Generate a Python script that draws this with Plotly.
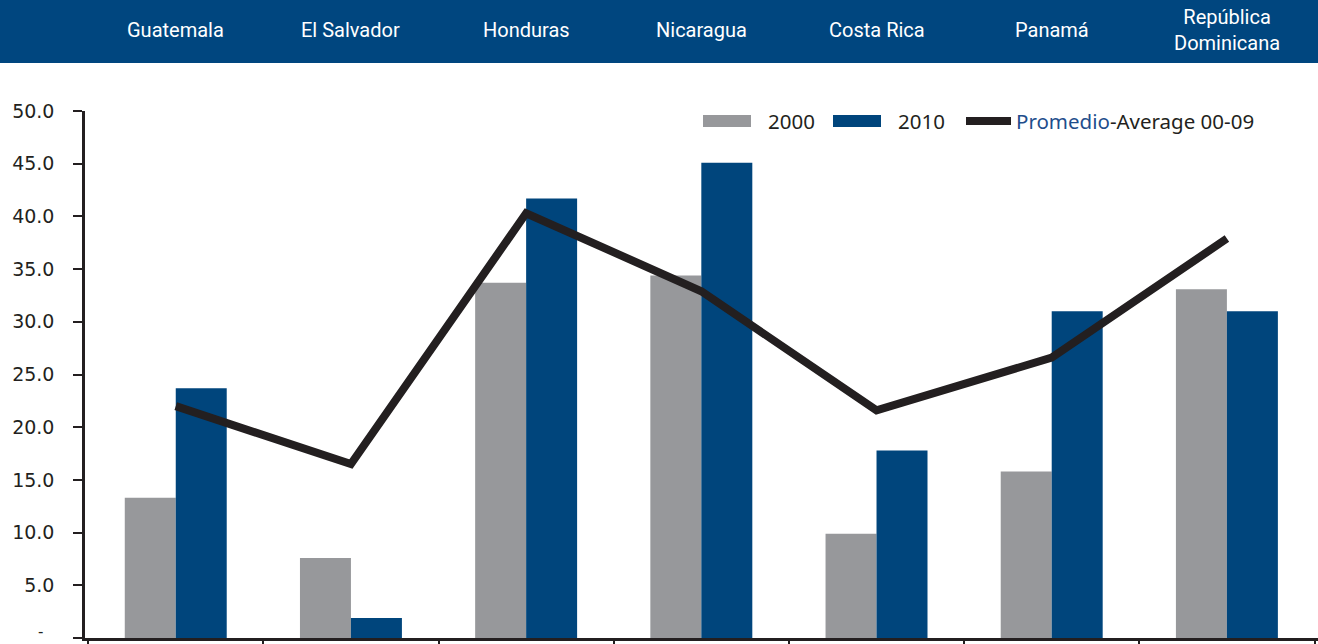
import plotly.graph_objects as go

categories = ["Guatemala", "El Salvador", "Honduras", "Nicaragua", "Costa Rica", "Panamá", "República<br>Dominicana"]
v2000 = [13.3, 7.6, 33.7, 34.4, 9.9, 15.8, 33.1]
v2010 = [23.7, 1.9, 41.7, 45.1, 17.8, 31.0, 31.0]
avg0009 = [22.0, 16.5, 40.3, 32.9, 21.6, 26.6, 37.9]
ytickvals = [0, 5, 10, 15, 20, 25, 30, 35, 40, 45, 50]
yticktext = ["", "5.0", "10.0", "15.0", "20.0", "25.0", "30.0", "35.0", "40.0", "45.0", "50.0"]
zero_label = "-"

W, H = 1318, 644
L, R, T, B = 85, 0, 111, 6
PW, PH = W - L - R, H - T - B

def px(x):
    return (x - L) / PW

def py(y):
    return (H - B - y) / PH

GRAY = "#97989B"
BLUE = "#00457C"
HEADER = "#00467F"
DARK = "#231F20"
xs = list(range(len(categories)))

fig = go.Figure()
fig.add_trace(go.Bar(x=xs, y=v2000, name="2000", marker=dict(color=GRAY, line=dict(width=0))))
fig.add_trace(go.Bar(x=xs, y=v2010, name="2010", marker=dict(color=BLUE, line=dict(width=0))))
fig.add_trace(go.Scatter(x=xs, y=avg0009, name="Promedio-Average 00-09", mode="lines",
                         line=dict(color=DARK, width=8)))

shapes = [
    dict(type="rect", xref="paper", yref="paper", x0=px(-5), x1=px(W + 5), y0=py(63), y1=py(-5),
         fillcolor=HEADER, line=dict(width=0), layer="above"),
    dict(type="rect", xref="paper", yref="paper", x0=px(703), x1=px(751), y0=py(127), y1=py(115),
         fillcolor=GRAY, line=dict(width=0)),
    dict(type="rect", xref="paper", yref="paper", x0=px(833), x1=px(881), y0=py(127), y1=py(115),
         fillcolor=BLUE, line=dict(width=0)),
    dict(type="line", xref="paper", yref="paper", x0=px(966), x1=px(1011), y0=py(121), y1=py(121),
         line=dict(color=DARK, width=8)),
]

annotations = []
for i, c in enumerate(categories):
    annotations.append(dict(x=i, xref="x", y=py(30), yref="paper", text=c, showarrow=False,
                            xanchor="center", yanchor="middle",
                            font=dict(family="Liberation Sans Narrow, Roboto, sans-serif", size=20, color="white")))

legfont = dict(family="Noto Sans, Open Sans, sans-serif", size=20.5, color=DARK)
annotations += [
    dict(x=px(766), y=py(121), xref="paper", yref="paper", text="2000", showarrow=False,
         xanchor="left", yanchor="middle", font=legfont),
    dict(x=px(896), y=py(121), xref="paper", yref="paper", text="2010", showarrow=False,
         xanchor="left", yanchor="middle", font=legfont),
    dict(x=px(1014), y=py(121), xref="paper", yref="paper",
         text="<span style='color:#1F4E8C'>Promedio</span>-Average 00-09", showarrow=False,
         xanchor="left", yanchor="middle", font=legfont),
    dict(x=px(40), y=py(643), xref="paper", yref="paper", text=zero_label, showarrow=False,
         xanchor="center", yanchor="bottom",
         font=dict(family="DejaVu Sans, sans-serif", size=15, color=DARK)),
]

fig.update_layout(
    width=W, height=H,
    margin=dict(l=L, r=R, t=T, b=B, pad=0, autoexpand=False),
    paper_bgcolor="white", plot_bgcolor="white",
    barmode="group", bargap=0.418, bargroupgap=0,
    showlegend=False,
    shapes=shapes, annotations=annotations,
    xaxis=dict(range=[-0.518, 6.52], showgrid=False, zeroline=False, automargin=False,
               showline=True, linecolor=DARK, linewidth=2.5,
               tickmode="array", tickvals=[k - 0.5 for k in range(len(categories) + 1)],
               ticks="outside", ticklen=8, tickwidth=2, tickcolor=DARK, showticklabels=False),
    yaxis=dict(range=[0, 50], showgrid=False, zeroline=False, automargin=False,
               showline=True, linecolor=DARK, linewidth=2.5,
               tickmode="array", tickvals=ytickvals, ticktext=yticktext,
               ticks="outside", ticklen=9, tickwidth=2, tickcolor=DARK,
               ticklabelstandoff=15,
               tickfont=dict(family="DejaVu Sans, sans-serif", size=19, color=DARK)),
)

fig.write_html("out.html", config={"displayModeBar": False},
               post_script="document.body.style.margin='0';")
